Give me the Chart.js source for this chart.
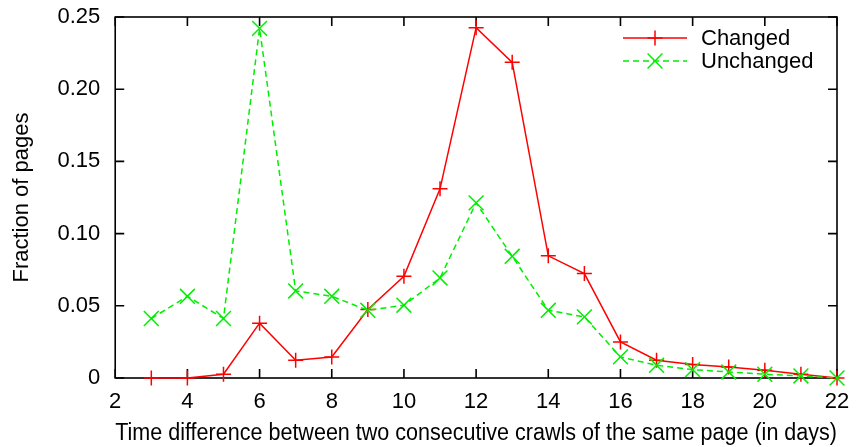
<!DOCTYPE html>
<html>
<head>
<meta charset="utf-8">
<script src="https://cdn.jsdelivr.net/npm/chart.js@4/dist/chart.umd.min.js"></script>
<style>
  html, body { margin: 0; padding: 0; background: #fff; }
</style>
</head>
<body>
<canvas id="myChart" width="857" height="447"></canvas>
<script>
// Days between two crawls of the same page.
const days = [3, 4, 5, 6, 7, 8, 9, 10, 11, 12, 13, 14, 15, 16, 17, 18, 19, 20, 21, 22];
// Fraction of pages.
const changed = [0, 0, 0.0026, 0.038, 0.0123, 0.0146, 0.0474, 0.0705, 0.131, 0.2426,
                 0.2186, 0.0846, 0.0723, 0.025, 0.0123, 0.0093, 0.0076, 0.0053, 0.0026, 0];
const unchanged = [0.0412, 0.0566, 0.0412, 0.2421, 0.0603, 0.0566, 0.0469, 0.0504, 0.0693, 0.1213,
                   0.0843, 0.0469, 0.0423, 0.0146, 0.0088, 0.0058, 0.0042, 0.0026, 0.0014, 0];
const xTicks = [2, 4, 6, 8, 10, 12, 14, 16, 18, 20, 22];
const yTicks = [0, 0.05, 0.10, 0.15, 0.20, 0.25];

const FONT = "'Liberation Sans', Arial, Helvetica, sans-serif";
const SIZE = 22;

// gnuplot style box with inward ticks on all four sides.
const framePlugin = {
  id: 'frame',
  beforeDatasetsDraw(chart) {
    const { ctx, chartArea: a, scales } = chart;
    ctx.save();
    ctx.strokeStyle = '#000';
    ctx.lineWidth = 1.6;
    ctx.strokeRect(a.left, a.top, a.right - a.left, a.bottom - a.top);
    ctx.beginPath();
    scales.x.ticks.forEach(t => {
      const px = scales.x.getPixelForValue(t.value);
      ctx.moveTo(px, a.bottom); ctx.lineTo(px, a.bottom - 9);
      ctx.moveTo(px, a.top); ctx.lineTo(px, a.top + 9);
    });
    scales.y.ticks.forEach(t => {
      const py = scales.y.getPixelForValue(t.value);
      ctx.moveTo(a.left, py); ctx.lineTo(a.left + 9, py);
      ctx.moveTo(a.right, py); ctx.lineTo(a.right - 9, py);
    });
    ctx.stroke();
    ctx.restore();
  }
};

// Legend in the top right corner: line sample, marker, then label.
const keyPlugin = {
  id: 'key',
  afterDatasetsDraw(chart) {
    const { ctx, chartArea: a } = chart;
    const rows = [chart.data.datasets[0], chart.data.datasets[1]];
    ctx.save();
    rows.forEach((ds, i) => {
      const y = a.top + 21 + i * 23;
      const x0 = a.right - 214, x1 = a.right - 150, xm = a.right - 182;
      ctx.strokeStyle = ds.borderColor;
      ctx.lineWidth = ds.borderWidth;
      ctx.setLineDash(ds.borderDash || []);
      ctx.beginPath();
      ctx.moveTo(x0, y); ctx.lineTo(x1, y);
      ctx.stroke();
      ctx.setLineDash([]);
      ctx.beginPath();
      if (ds.pointStyle === 'cross') {
        const r = ds.pointRadius;
        ctx.moveTo(xm - r, y); ctx.lineTo(xm + r, y);
        ctx.moveTo(xm, y - r); ctx.lineTo(xm, y + r);
      } else {
        const r = ds.pointRadius * Math.SQRT1_2;
        ctx.moveTo(xm - r, y - r); ctx.lineTo(xm + r, y + r);
        ctx.moveTo(xm - r, y + r); ctx.lineTo(xm + r, y - r);
      }
      ctx.stroke();
      ctx.fillStyle = '#000';
      ctx.font = SIZE + 'px ' + FONT;
      ctx.textBaseline = 'middle';
      ctx.textAlign = 'left';
      ctx.fillText(ds.label, a.right - 136, y + 1);
    });
    ctx.restore();
  }
};

const ctx = document.getElementById('myChart').getContext('2d');
new Chart(ctx, {
  type: 'line',
  data: {
    datasets: [
      {
        label: 'Changed',
        data: days.map((d, i) => ({ x: d, y: changed[i] })),
        borderColor: '#ff0000',
        backgroundColor: '#ff0000',
        borderWidth: 1.5,
        pointStyle: 'cross',
        pointRadius: 7.5,
        pointBorderWidth: 1.5,
        fill: false,
        tension: 0,
        clip: false,
        order: 1
      },
      {
        label: 'Unchanged',
        data: days.map((d, i) => ({ x: d, y: unchanged[i] })),
        borderColor: '#00ee00',
        backgroundColor: '#00ee00',
        borderWidth: 1.5,
        borderDash: [6, 4],
        pointStyle: 'crossRot',
        pointRadius: 10.5,
        pointBorderWidth: 1.5,
        fill: false,
        tension: 0,
        clip: false,
        order: 0
      }
    ]
  },
  options: {
    responsive: false,
    animation: false,
    layout: { padding: { left: 3, right: 20, top: 17, bottom: 0 } },
    plugins: {
      legend: { display: false },
      tooltip: { enabled: false }
    },
    scales: {
      x: {
        type: 'linear',
        min: 2,
        max: 22,
        afterBuildTicks: axis => { axis.ticks = xTicks.map(v => ({ value: v })); },
        // let the layout padding alone decide the side margins
        afterFit: axis => { axis.paddingLeft = 0; axis.paddingRight = 0; },
        grid: { display: false, drawTicks: false },
        border: { display: false },
        title: {
          display: true,
          text: 'Time difference between two consecutive crawls of the same page (in days)',
          color: '#000',
          font: { family: FONT, size: 23 },
          padding: { top: -7, bottom: 0 }
        },
        ticks: {
          color: '#000',
          padding: 11,
          maxRotation: 0,
          font: { family: FONT, size: SIZE },
          callback: v => String(v)
        }
      },
      y: {
        min: 0,
        max: 0.25,
        afterBuildTicks: axis => { axis.ticks = yTicks.map(v => ({ value: v })); },
        afterFit: axis => { axis.paddingTop = 0; axis.paddingBottom = 0; },
        grid: { display: false, drawTicks: false },
        border: { display: false },
        title: {
          display: true,
          text: 'Fraction of pages',
          color: '#000',
          font: { family: FONT, size: SIZE },
          padding: { top: 6, bottom: 7 }
        },
        ticks: {
          color: '#000',
          padding: 15,
          font: { family: FONT, size: SIZE },
          callback: v => (v === 0 ? '0' : v.toFixed(2))
        }
      }
    }
  },
  plugins: [framePlugin, keyPlugin]
});
</script>
</body>
</html>
